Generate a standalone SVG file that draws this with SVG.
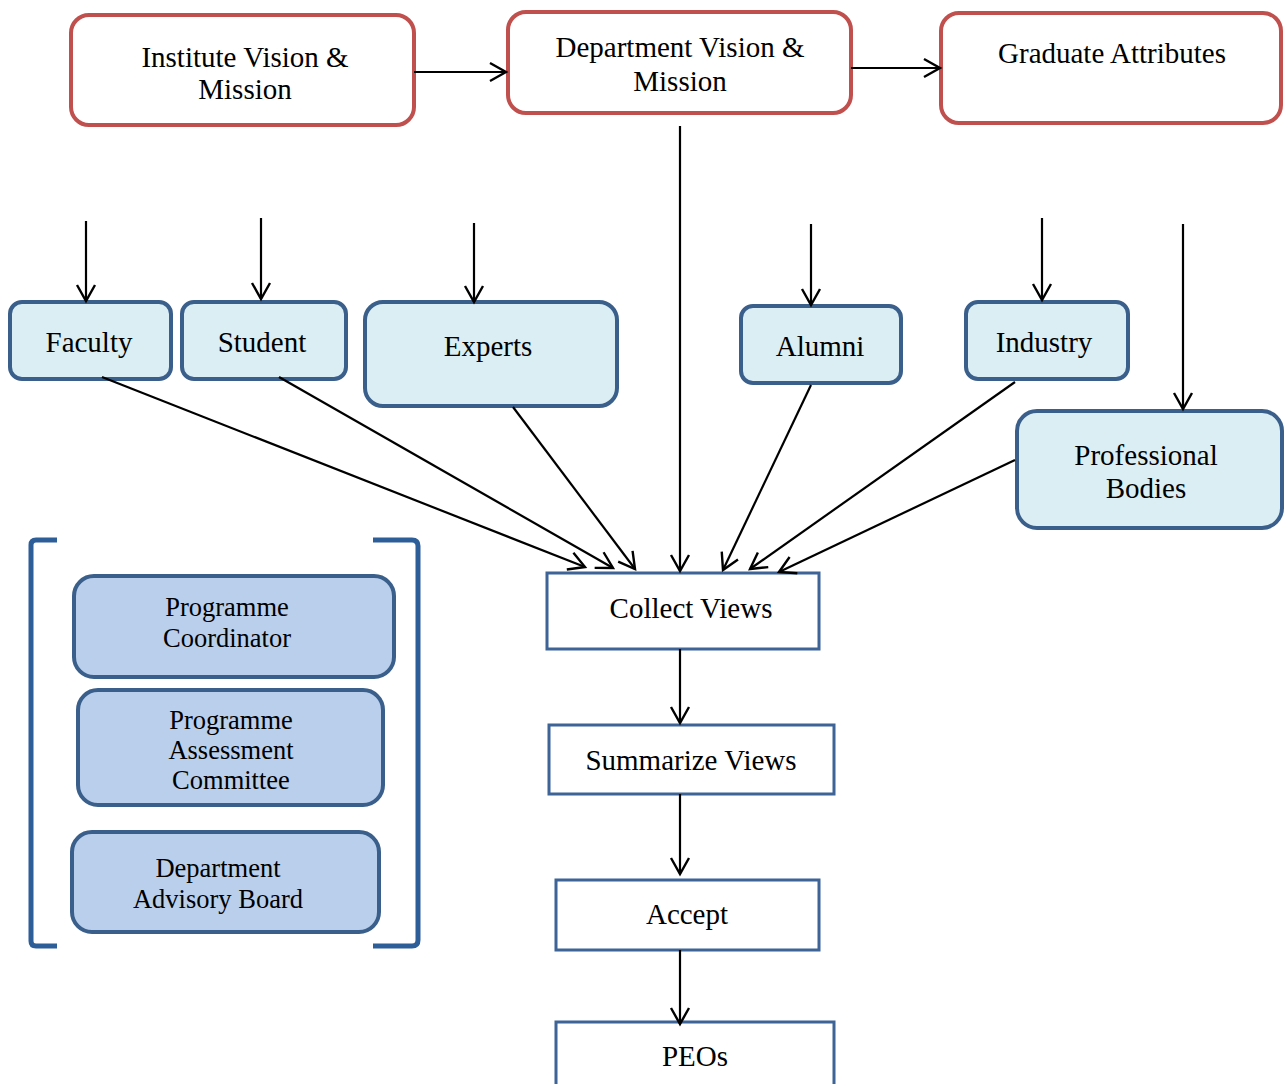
<svg xmlns="http://www.w3.org/2000/svg" width="1287" height="1084" viewBox="0 0 1287 1084">
  <style>
    text { font-family: "Liberation Serif", "Times New Roman", serif; fill: #000; text-anchor: middle; }
    .t29 { font-size: 29px; }
    .t26 { font-size: 26.5px; }
    .vision { fill: #fff; stroke: #c0504d; stroke-width: 4; }
    .source { fill: #dbeef4; stroke: #3a5f8b; stroke-width: 4; }
    .member { fill: #b9cfec; stroke: #3a5f8b; stroke-width: 4; }
    .step { fill: #fff; stroke: #3d6397; stroke-width: 3; }
    .bracket { fill: none; stroke: #2e5e98; stroke-width: 5; }
    .conn line { stroke: #000; stroke-width: 2.2; marker-end: url(#arrow); }
  </style>
  <defs>
    <marker id="arrow" markerUnits="userSpaceOnUse" markerWidth="24" markerHeight="24" viewBox="0 0 24 24" refX="18" refY="12" orient="auto">
      <path d="M2,3 L18,12 L2,21" fill="none" stroke="#000" stroke-width="2.4"/>
    </marker>
  </defs>
  <rect width="1287" height="1084" fill="#fff"/>

  <!-- vision and attributes -->
  <g id="institute">
    <rect class="vision" x="71" y="15" width="343" height="110" rx="18"/>
    <text class="t29" x="245" y="67">Institute Vision &amp;</text>
    <text class="t29" x="245" y="99">Mission</text>
  </g>
  <g id="department">
    <rect class="vision" x="508" y="12" width="343" height="101" rx="18"/>
    <text class="t29" x="680" y="57">Department Vision &amp;</text>
    <text class="t29" x="680" y="91">Mission</text>
  </g>
  <g id="graduate">
    <rect class="vision" x="941" y="13" width="340" height="110" rx="18"/>
    <text class="t29" x="1112" y="63">Graduate Attributes</text>
  </g>

  <!-- stakeholders -->
  <g id="faculty">
    <rect class="source" x="10" y="302" width="161" height="77" rx="12"/>
    <text class="t29" x="89" y="352">Faculty</text>
  </g>
  <g id="student">
    <rect class="source" x="182" y="302" width="164" height="77" rx="12"/>
    <text class="t29" x="262" y="352">Student</text>
  </g>
  <g id="experts">
    <rect class="source" x="365" y="302" width="252" height="104" rx="18"/>
    <text class="t29" x="488" y="356">Experts</text>
  </g>
  <g id="alumni">
    <rect class="source" x="741" y="306" width="160" height="77" rx="12"/>
    <text class="t29" x="820" y="356">Alumni</text>
  </g>
  <g id="industry">
    <rect class="source" x="966" y="302" width="162" height="77" rx="12"/>
    <text class="t29" x="1044" y="352">Industry</text>
  </g>
  <g id="professional">
    <rect class="source" x="1017" y="411" width="265" height="117" rx="20"/>
    <text class="t29" x="1146" y="465">Professional</text>
    <text class="t29" x="1146" y="498">Bodies</text>
  </g>

  <!-- committee group -->
  <g id="committees">
    <path class="bracket" d="M57,540 H36 Q31,540 31,545 V941 Q31,946 36,946 H57"/>
    <path class="bracket" d="M373,540 H412 Q418,540 418,546 V940 Q418,946 412,946 H373"/>
  </g>
  <g id="coordinator">
    <rect class="member" x="74" y="576" width="320" height="101" rx="20"/>
    <text class="t26" x="227" y="616">Programme</text>
    <text class="t26" x="227" y="647">Coordinator</text>
  </g>
  <g id="assessment">
    <rect class="member" x="78" y="690" width="305" height="115" rx="20"/>
    <text class="t26" x="231" y="729">Programme</text>
    <text class="t26" x="231" y="759">Assessment</text>
    <text class="t26" x="231" y="789">Committee</text>
  </g>
  <g id="advisory">
    <rect class="member" x="72" y="832" width="307" height="100" rx="20"/>
    <text class="t26" x="218" y="877">Department</text>
    <text class="t26" x="218" y="908">Advisory Board</text>
  </g>

  <!-- process steps -->
  <g id="collect">
    <rect class="step" x="547" y="573" width="272" height="76"/>
    <text class="t29" x="691" y="618">Collect Views</text>
  </g>
  <g id="summarize">
    <rect class="step" x="549" y="725" width="285" height="69"/>
    <text class="t29" x="691" y="770">Summarize Views</text>
  </g>
  <g id="accept">
    <rect class="step" x="556" y="880" width="263" height="70"/>
    <text class="t29" x="687" y="924">Accept</text>
  </g>
  <g id="peos">
    <rect class="step" x="556" y="1022" width="278" height="70"/>
    <text class="t29" x="695" y="1066">PEOs</text>
  </g>

  <!-- connectors -->
  <g id="connectors" class="conn">
    <line x1="414" y1="72" x2="506" y2="72"/>
    <line x1="851" y1="68" x2="940" y2="68"/>
    <line x1="680" y1="126" x2="680" y2="571"/>

    <line x1="86" y1="221" x2="86" y2="301"/>
    <line x1="261" y1="218" x2="261" y2="299"/>
    <line x1="474" y1="223" x2="474" y2="302"/>
    <line x1="811" y1="224" x2="811" y2="305"/>
    <line x1="1042" y1="218" x2="1042" y2="300"/>
    <line x1="1183" y1="224" x2="1183" y2="409"/>

    <line x1="102" y1="377" x2="585" y2="567"/>
    <line x1="279" y1="377" x2="613" y2="568"/>
    <line x1="513" y1="407" x2="635" y2="569"/>
    <line x1="811" y1="385" x2="723" y2="570"/>
    <line x1="1015" y1="382" x2="750" y2="569"/>
    <line x1="1015" y1="460" x2="779" y2="572"/>

    <line x1="680" y1="649" x2="680" y2="723"/>
    <line x1="680" y1="794" x2="680" y2="874"/>
    <line x1="680" y1="950" x2="680" y2="1024"/>
  </g>
</svg>
